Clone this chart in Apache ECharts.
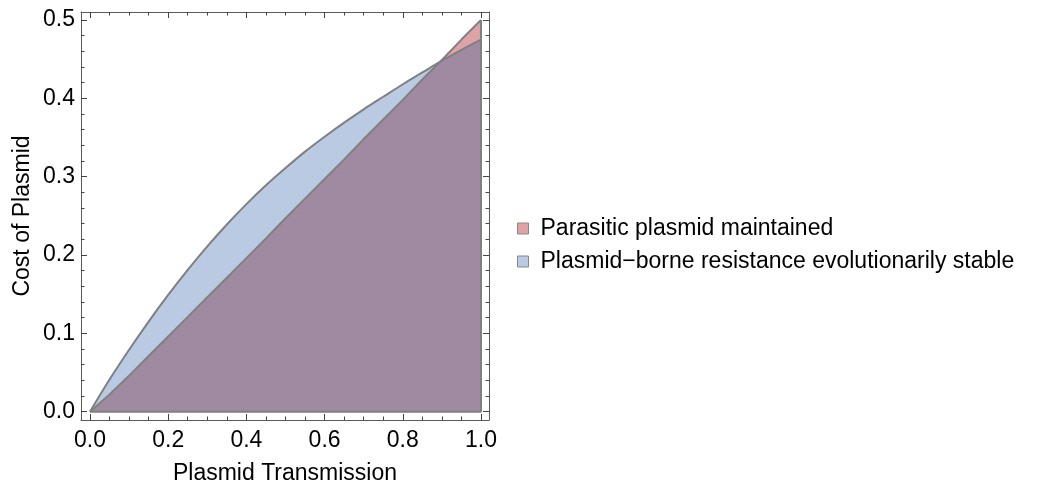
<!DOCTYPE html>
<html>
<head>
<meta charset="utf-8">
<script src="https://cdn.jsdelivr.net/npm/echarts@6/dist/echarts.min.js"></script>
<style>
  html, body { margin: 0; padding: 0; background: #ffffff; }
  #chart { width: 1050px; height: 484px; }
</style>
</head>
<body>
<div id="chart"></div>
<script>
// Plasmid transmission (x) sample grid
const transmission = [0, 0.05, 0.1, 0.15, 0.2, 0.25, 0.3, 0.35, 0.4, 0.45, 0.5,
  0.55, 0.6, 0.65, 0.7, 0.75, 0.8, 0.85, 0.9, 0.95, 1.0];
// Upper boundary of the region where plasmid-borne resistance is evolutionarily stable
const resistanceBound = [0, 0.041, 0.079, 0.115, 0.149, 0.181, 0.211, 0.239, 0.265, 0.289, 0.311,
  0.332, 0.351, 0.369, 0.386, 0.402, 0.418, 0.433, 0.448, 0.462, 0.475];
// Upper boundary of the region where the parasitic plasmid is maintained
const parasiticBound = [0, 0.022, 0.046, 0.071, 0.096, 0.121, 0.146, 0.171, 0.196, 0.221, 0.247,
  0.272, 0.297, 0.322, 0.348, 0.373, 0.398, 0.424, 0.449, 0.475, 0.5];

const xMajorTicks = [0, 0.2, 0.4, 0.6, 0.8, 1.0];
const xMinorTicks = [0.05, 0.1, 0.15, 0.25, 0.3, 0.35, 0.45, 0.5, 0.55, 0.65, 0.7, 0.75, 0.85, 0.9, 0.95];
const yMajorTicks = [0, 0.1, 0.2, 0.3, 0.4, 0.5];
const yMinorTicks = [0.02, 0.04, 0.06, 0.08, 0.12, 0.14, 0.16, 0.18, 0.22, 0.24, 0.26, 0.28,
  0.32, 0.34, 0.36, 0.38, 0.42, 0.44, 0.46, 0.48];

const parasiticName = 'Parasitic plasmid maintained';
const resistanceName = 'Plasmid\u2212borne resistance evolutionarily stable';

const RED = '#e0a3a5';
const BLUE = '#b9cae2';
const BOTH = '#9f8aa2';
const EDGE = '#808080';
const FRAME = '#5a5a5a';
const FONT = '"Liberation Sans", Arial, sans-serif';
const FONT_SIZE = 23;
const CURVE_SMOOTH = 0.3;

const toPairs = (ys) => transmission.map((x, i) => [x, ys[i]]);
const overlap = transmission.map((x, i) => [x, Math.min(resistanceBound[i], parasiticBound[i])]);

const X_MIN = -0.023, X_MAX = 1.0205;
const Y_MIN = -0.0106, Y_MAX = 0.5102;

function axisPair(position, major, minor, min, max, extra) {
  const base = { type: 'value', position, min, max, splitLine: { show: false } };
  const majorAxis = Object.assign({}, base, {
    axisLine: { show: true, onZero: false, lineStyle: { color: FRAME, width: 1 } },
    axisTick: { show: true, inside: true, length: 6, customValues: major, lineStyle: { color: '#444', width: 1 } },
    axisLabel: { show: false }
  }, extra || {});
  const minorAxis = Object.assign({}, base, {
    axisLine: { show: false, onZero: false },
    axisTick: { show: true, inside: true, length: 3.5, customValues: minor, lineStyle: { color: '#444', width: 1 } },
    axisLabel: { show: false }
  });
  return [majorAxis, minorAxis];
}

const labelStyle = (vals) => ({
  show: true, customValues: vals, fontSize: FONT_SIZE, color: '#000', fontFamily: FONT,
  formatter: (v) => Number(v).toFixed(1)
});

const xAxes = axisPair('bottom', xMajorTicks, xMinorTicks, X_MIN, X_MAX, {
  axisLabel: Object.assign(labelStyle(xMajorTicks), { margin: 9 }),
  name: 'Plasmid Transmission', nameLocation: 'middle', nameGap: 42,
  nameTextStyle: { fontSize: FONT_SIZE, color: '#000', fontFamily: FONT }
}).concat(axisPair('top', xMajorTicks, xMinorTicks, X_MIN, X_MAX));

const yAxes = axisPair('left', yMajorTicks, yMinorTicks, Y_MIN, Y_MAX, {
  axisLabel: Object.assign(labelStyle(yMajorTicks), { margin: 6 }),
  name: 'Cost of Plasmid', nameLocation: 'middle', nameGap: 47,
  nameTextStyle: { fontSize: FONT_SIZE, color: '#000', fontFamily: FONT }
}).concat(axisPair('right', yMajorTicks, yMinorTicks, Y_MIN, Y_MAX));

function fill(name, data, color, z, smooth) {
  return {
    name, type: 'line', data, xAxisIndex: 0, yAxisIndex: 0, smooth,
    showSymbol: false, symbol: 'none', silent: true, z,
    lineStyle: { width: 0, color }, itemStyle: { color },
    areaStyle: { color, opacity: 1, origin: 0 }
  };
}
function outline(data, z, smooth) {
  return {
    type: 'line', data, xAxisIndex: 0, yAxisIndex: 0, smooth,
    showSymbol: false, symbol: 'none', silent: true, z,
    lineStyle: { width: 2, color: EDGE }
  };
}
// Straight edges along x = 1 and y = 0 closing both regions
const edges = {
  type: 'line', xAxisIndex: 0, yAxisIndex: 0, showSymbol: false, symbol: 'none', silent: true, z: 6,
  lineStyle: { width: 2, color: EDGE },
  data: [[1, parasiticBound[parasiticBound.length - 1]], [1, 0], [0, 0]]
};

const chart = echarts.init(document.getElementById('chart'), null, { renderer: 'canvas' });
chart.setOption({
  animation: false,
  backgroundColor: '#ffffff',
  grid: { left: 81, top: 12, width: 408, height: 408, containLabel: false, outerBoundsMode: 'none' },
  xAxis: xAxes,
  yAxis: yAxes,
  legend: {
    orient: 'vertical', left: 512, top: 212, itemWidth: 11, itemHeight: 11, itemGap: 10,
    icon: 'rect', selectedMode: false,
    textStyle: { fontSize: FONT_SIZE, color: '#000', fontFamily: FONT, lineHeight: 23, padding: [0, 0, 0, 7] },
    data: [
      { name: parasiticName, itemStyle: { color: RED, borderColor: '#888', borderWidth: 1 } },
      { name: resistanceName, itemStyle: { color: BLUE, borderColor: '#888', borderWidth: 1 } }
    ]
  },
  series: [
    fill(parasiticName, toPairs(parasiticBound), RED, 1, false),
    fill(resistanceName, toPairs(resistanceBound), BLUE, 2, CURVE_SMOOTH),
    fill('overlap', overlap, BOTH, 3, false),
    outline(toPairs(resistanceBound), 4, CURVE_SMOOTH),
    outline(toPairs(parasiticBound), 5, false),
    edges
  ]
});
</script>
</body>
</html>
